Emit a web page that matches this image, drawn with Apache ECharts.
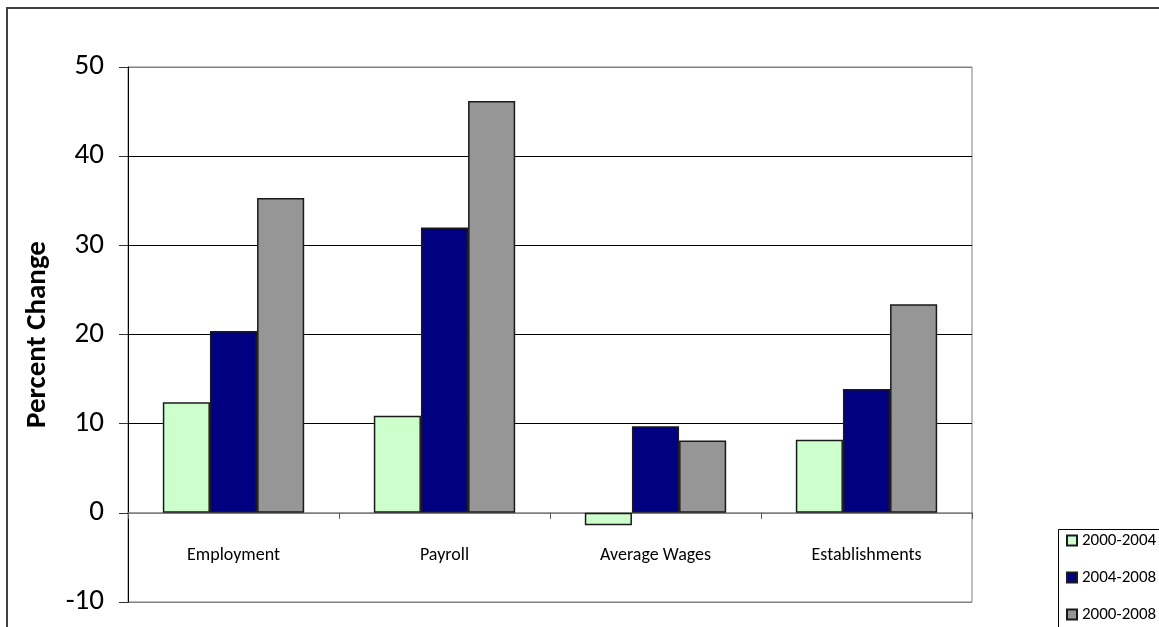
<!DOCTYPE html>
<html>
<head>
<meta charset="utf-8">
<script src="https://cdn.jsdelivr.net/npm/echarts@6/dist/echarts.min.js"></script>
<style>
  html, body { margin: 0; padding: 0; background: #fff; }
  #chart { width: 1159px; height: 627px; }
</style>
</head>
<body>
<div id="chart"></div>
<script>
const categories = ['Employment', 'Payroll', 'Average Wages', 'Establishments']
const seriesNames = ['2000-2004', '2004-2008', '2000-2008']
const change2000to2004 = [12.4, 10.9, -1.4, 8.2]
const change2004to2008 = [20.4, 32.0, 9.7, 13.9]
const change2000to2008 = [35.3, 46.2, 8.1, 23.4]
const yTicks = [-10, 0, 10, 20, 30, 40, 50]

const barColors = ['#ccffcc', '#000080', '#969696']
const fontFamily = 'Carlito, Lato, "Open Sans", sans-serif'

const chart = echarts.init(document.getElementById('chart'))

const seriesData = [change2000to2004, change2004to2008, change2000to2008]

chart.setOption({
  animation: false,
  textStyle: { fontFamily },
  graphic: [{
    type: 'rect',
    shape: { x: 7, y: 8, width: 1200, height: 700 },
    style: { fill: 'none', stroke: '#404040', lineWidth: 2 },
    silent: true
  }, {
    // legend frame, runs off the bottom/right like the original
    type: 'rect',
    shape: { x: 1058.5, y: 529.5, width: 200, height: 200 },
    style: { fill: 'none', stroke: '#000', lineWidth: 1 },
    silent: true
  }],
  legend: {
    orient: 'vertical',
    left: 1060,
    top: 532,
    height: 300,
    padding: [0, 0, 0, 6],
    itemWidth: 10,
    itemHeight: 10,
    itemGap: 20,
    icon: 'rect',
    textStyle: { fontSize: 17, color: '#000', fontFamily },
    data: seriesNames
  },
  grid: {
    left: 128,
    right: 187,
    top: 67,
    bottom: 25,
    outerBoundsMode: 'none',
    containLabel: false,
    show: true,
    borderColor: '#808080',
    borderWidth: 1
  },
  xAxis: {
    type: 'category',
    data: categories,
    axisLine: { onZero: true, lineStyle: { color: '#808080', width: 1.5 } },
    axisTick: { show: true, length: 6, lineStyle: { color: '#555' } },
    axisLabel: { color: '#000', fontSize: 18, margin: -56, fontFamily }
  },
  yAxis: {
    type: 'value',
    min: yTicks[0],
    max: yTicks[yTicks.length - 1],
    interval: 10,
    name: 'Percent Change',
    nameLocation: 'middle',
    nameGap: 76,
    nameTextStyle: { fontSize: 29, fontWeight: 'bold', color: '#000', fontFamily },
    axisLine: { show: true, lineStyle: { color: '#000', width: 1 } },
    axisTick: { show: true, length: 9, lineStyle: { color: '#333' } },
    axisLabel: { color: '#000', fontSize: 29, margin: 24, fontFamily },
    splitLine: {
      show: true,
      lineStyle: {
        color: ['#808080', '#808080', '#000', '#000', '#000', '#000', '#808080'],
        width: 1
      }
    }
  },
  series: seriesNames.map((name, i) => ({
    name,
    type: 'bar',
    data: seriesData[i],
    barGap: '0%',
    barCategoryGap: '33%',
    itemStyle: {
      color: barColors[i],
      borderColor: '#1a1a1a',
      borderWidth: 1.5
    }
  }))
})
</script>
</body>
</html>
